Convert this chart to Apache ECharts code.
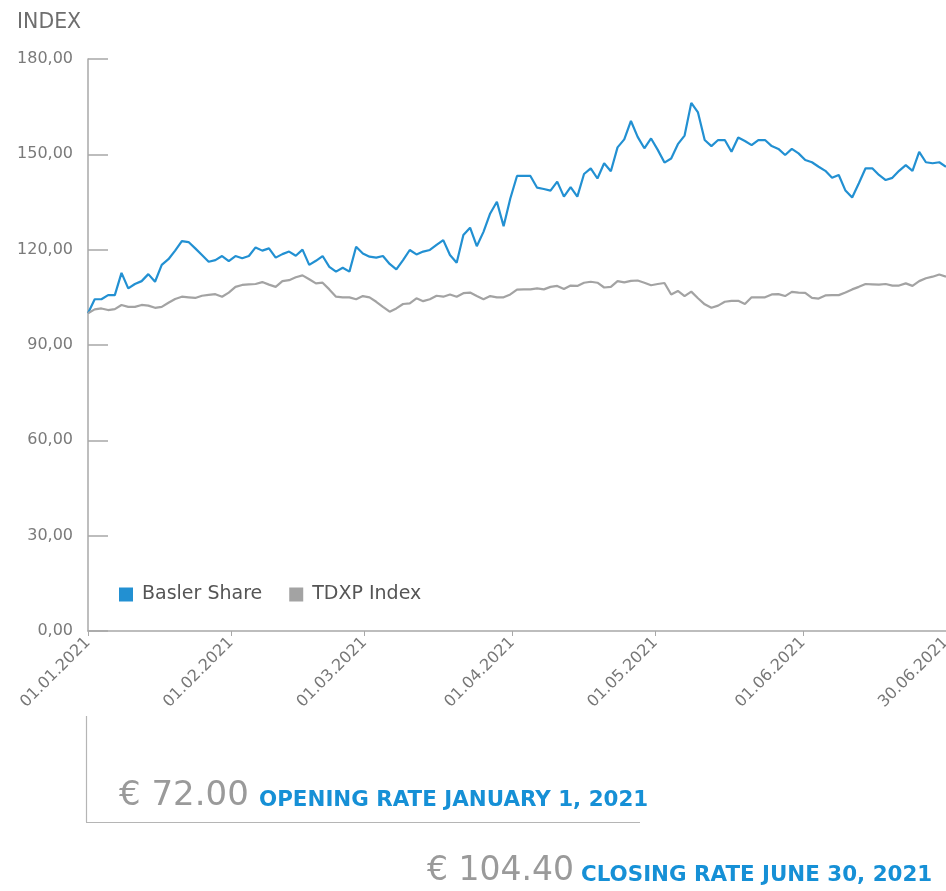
<!DOCTYPE html>
<html>
<head>
<meta charset="utf-8">
<script src="https://cdn.jsdelivr.net/npm/echarts@6/dist/echarts.min.js"></script>
<style>
  html, body { margin: 0; padding: 0; background: #fff; overflow: hidden; }
  #chart { width: 946px; height: 891px; }
</style>
</head>
<body>
<div id="chart"></div>
<script>
// month ticks on the calendar axis and their labels
var tickDates = ['2021-01-01', '2021-01-31', '2021-02-28', '2021-03-31', '2021-04-30', '2021-05-31', '2021-06-30']
var tickLabels = ['01.01.2021', '01.02.2021', '01.03.2021', '01.04.2021', '01.05.2021', '01.06.2021', '30.06.2021']

// indexed to 100 on 01.01.2021, one value per weekday
var baslerShare = [
  100.0, 104.4, 104.4, 105.7, 105.7, 112.7, 107.8, 109.2, 110.1, 112.3,
  109.9, 115.2, 117.0, 119.7, 122.7, 122.4, 120.4, 118.3, 116.2, 116.7,
  118.0, 116.4, 118.0, 117.3, 118.0, 120.7, 119.7, 120.4, 117.5, 118.6,
  119.4, 118.1, 120.0, 115.2, 116.5, 118.0, 114.6, 113.1, 114.3, 113.1,
  120.9, 118.8, 117.8, 117.5, 118.0, 115.5, 113.8, 116.7, 119.9, 118.5,
  119.4, 119.9, 121.5, 123.0, 118.3, 115.9, 124.6, 126.9, 121.1, 125.6,
  131.4, 135.1, 127.4, 136.1, 143.2, 143.2, 143.2, 139.5, 139.1, 138.6,
  141.4, 136.7, 139.7, 136.7, 143.8, 145.6, 142.4, 147.2, 144.7, 152.2,
  154.7, 160.5, 155.5, 151.9, 155.0, 151.4, 147.4, 148.7, 153.2, 155.9,
  166.2, 163.2, 154.5, 152.6, 154.5, 154.5, 150.8, 155.3, 154.2, 152.9,
  154.5, 154.5, 152.6, 151.7, 149.8, 151.7, 150.3, 148.2, 147.5, 146.1,
  144.8, 142.6, 143.5, 138.6, 136.4, 140.9, 145.6, 145.6, 143.5, 141.9,
  142.6, 144.8, 146.6, 144.8, 150.8, 147.5, 147.2, 147.5, 146.1
]
var tdxpIndex = [
  100.0, 101.2, 101.5, 101.0, 101.3, 102.6, 102.0, 102.0, 102.6, 102.4,
  101.7, 102.0, 103.3, 104.5, 105.2, 105.0, 104.8, 105.5, 105.8, 106.0,
  105.2, 106.5, 108.3, 108.9, 109.1, 109.2, 109.8, 109.0, 108.3, 110.1,
  110.4, 111.3, 111.9, 110.7, 109.4, 109.6, 107.5, 105.2, 105.0, 105.0,
  104.4, 105.4, 105.0, 103.6, 102.0, 100.5, 101.5, 102.9, 103.1, 104.7,
  103.8, 104.4, 105.5, 105.2, 105.9, 105.2, 106.3, 106.5, 105.4, 104.4,
  105.4, 105.0, 105.0, 105.9, 107.4, 107.5, 107.5, 107.8, 107.5, 108.3,
  108.6, 107.6, 108.7, 108.6, 109.6, 109.9, 109.6, 108.1, 108.3, 110.1,
  109.7, 110.2, 110.3, 109.6, 108.8, 109.2, 109.5, 105.9, 107.0, 105.4,
  106.8, 104.7, 102.8, 101.7, 102.4, 103.6, 103.9, 103.9, 102.9, 105.0,
  105.0, 105.0, 105.9, 106.0, 105.4, 106.7, 106.5, 106.4, 104.8, 104.6,
  105.6, 105.7, 105.7, 106.5, 107.5, 108.3, 109.2, 109.1, 109.0, 109.2,
  108.7, 108.7, 109.4, 108.6, 110.1, 111.0, 111.5, 112.2, 111.5
]

function toTime(s) {
  var p = s.split('-')
  return new Date(+p[0], +p[1] - 1, +p[2]).getTime()
}

// weekdays 01.01. - 30.06.2021 (category axis for the lines)
var weekdays = []
for (var d = new Date(2021, 0, 1); d <= new Date(2021, 5, 30); d.setDate(d.getDate() + 1)) {
  if (d.getDay() % 6 !== 0) weekdays.push(d.getFullYear() + '-' + (d.getMonth() + 1) + '-' + d.getDate())
}

// calendar axis counted in days since 01.01.2021
var t0 = toTime(tickDates[0])
var tickDays = tickDates.map(function (s) { return Math.round((toTime(s) - t0) / 86400000) })

var blue = '#2290d2'
var grey = '#a3a3a3'
var axisGrey = '#a8a8a8'
var font = '"DejaVu Sans", sans-serif'

var myChart = echarts.init(document.getElementById('chart'))
myChart.setOption({
  animation: false,
  textStyle: { fontFamily: font },
  title: {
    text: 'INDEX',
    left: 12,
    top: 7,
    textStyle: { color: '#6e6e6e', fontSize: 20.5, fontWeight: 'normal', fontFamily: font }
  },
  grid: { left: 88, right: 0, top: 59, bottom: 260, outerBoundsMode: 'none' },
  legend: {
    left: 114,
    top: 580,
    icon: 'rect',
    itemWidth: 14,
    itemHeight: 14,
    itemGap: 27,
    textStyle: { color: '#555', fontSize: 19, fontFamily: font, padding: [0, 0, 0, 4] },
    data: ['Basler Share', 'TDXP Index']
  },
  xAxis: [
    {
      type: 'value',
      min: tickDays[0],
      max: tickDays[tickDays.length - 1],
      axisLine: { lineStyle: { color: axisGrey, width: 1.5 } },
      axisTick: { show: true, length: 5, customValues: tickDays, lineStyle: { color: axisGrey } },
      splitLine: { show: false },
      axisLabel: {
        customValues: tickDays,
        rotate: 45,
        margin: 9,
        color: '#777',
        fontSize: 16,
        fontFamily: font,
        formatter: function (val) {
          var i = tickDays.indexOf(val)
          return i >= 0 ? tickLabels[i] : ''
        }
      }
    },
    {
      type: 'category',
      show: false,
      boundaryGap: false,
      data: weekdays
    }
  ],
  yAxis: {
    type: 'value',
    min: 0,
    max: 180,
    interval: 30,
    axisLine: { show: true, lineStyle: { color: axisGrey, width: 1.5 } },
    axisTick: { show: true, inside: true, length: 20, lineStyle: { color: axisGrey, width: 1.5 } },
    splitLine: { show: false },
    axisLabel: {
      margin: 15,
      color: '#7a7a7a',
      fontSize: 16,
      fontFamily: font,
      formatter: function (v) { return v.toFixed(2).replace('.', ',') }
    }
  },
  series: [
    {
      name: 'Basler Share',
      type: 'line',
      xAxisIndex: 1,
      data: baslerShare,
      showSymbol: false,
      color: blue,
      lineStyle: { color: blue, width: 2.2 }
    },
    {
      name: 'TDXP Index',
      type: 'line',
      xAxisIndex: 1,
      data: tdxpIndex,
      showSymbol: false,
      color: grey,
      lineStyle: { color: grey, width: 2.2 }
    }
  ],
  graphic: [
    { type: 'line', shape: { x1: 86.5, y1: 716, x2: 86.5, y2: 822 }, style: { stroke: '#b5b5b5', lineWidth: 1.2 } },
    { type: 'line', shape: { x1: 86, y1: 822.5, x2: 640, y2: 822.5 }, style: { stroke: '#b5b5b5', lineWidth: 1.2 } },
    { type: 'text', x: 119, y: 796, style: { text: '€ 72.00', fill: '#9a9a9a', font: '34px ' + font, verticalAlign: 'middle' } },
    { type: 'text', x: 259, y: 800, style: { text: 'OPENING RATE JANUARY 1, 2021', fill: '#1690d6', font: 'bold 21.4px ' + font, verticalAlign: 'middle' } },
    { type: 'text', x: 427, y: 871, style: { text: '€ 104.40', fill: '#9a9a9a', font: '33px ' + font, verticalAlign: 'middle' } },
    { type: 'text', x: 581, y: 875, style: { text: 'CLOSING RATE JUNE 30, 2021', fill: '#1690d6', font: 'bold 21.4px ' + font, verticalAlign: 'middle' } }
  ]
})
window.onresize = function () { myChart.resize() }
</script>
</body>
</html>
